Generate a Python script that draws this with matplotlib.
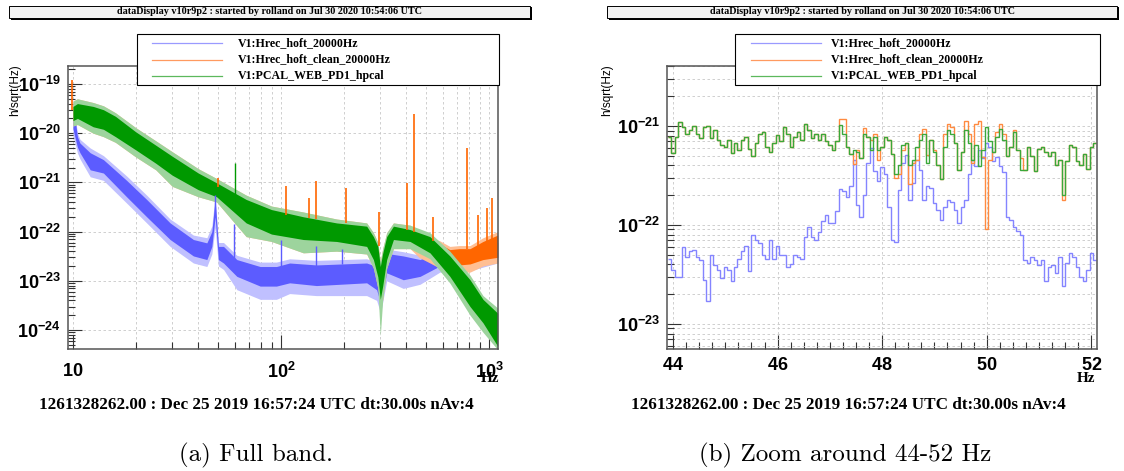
import numpy as np
import matplotlib.pyplot as plt
from matplotlib.ticker import FixedLocator, MultipleLocator, NullFormatter
from matplotlib.patches import Rectangle
from matplotlib.lines import Line2D

plt.rcParams['mathtext.fontset'] = 'custom'
plt.rcParams['mathtext.rm'] = 'Liberation Sans'
plt.rcParams['mathtext.bf'] = 'Liberation Sans:bold'

# ---------------- full band spectra (envelopes of the noisy ASDs) ----------------
pcal_f = [10, 10.5, 12.5, 14, 16, 20, 25, 30, 40, 49, 68, 90, 128, 185, 258, 278,
          292, 300, 308, 322, 347, 417, 520, 648, 810, 935, 1100]
pcal_hi = [3.5e-20, 4.0e-20, 3.5e-20, 3.0e-20, 2.2e-20, 1.07e-20, 5.7e-21, 3.4e-21, 1.55e-21,
           9.8e-22, 4.5e-22, 2.8e-22, 2.0e-22, 1.5e-22, 1.29e-22, 7.9e-23, 5.0e-23, 1.95e-23,
           3.6e-23, 7.9e-23, 1.29e-22, 1.1e-22, 7.9e-23, 3.2e-23, 1.05e-23, 4.2e-24, 2.2e-24]
pcal_lo = [1.8e-20, 2.0e-20, 1.35e-20, 1.2e-20, 8.5e-21, 4.6e-21, 2.45e-21, 1.4e-21, 7.1e-22,
           5.1e-22, 1.5e-22, 8.9e-23, 6.9e-23, 6.3e-23, 5.0e-23, 2.7e-23, 1.2e-23, 4.2e-24,
           7.8e-24, 2.7e-23, 6.9e-23, 6.3e-23, 3.7e-23, 1.23e-23, 3.0e-24, 1.4e-24, 4.7e-25]
pcal_max = [4.5e-20, 5.0e-20, 4.2e-20, 3.6e-20, 2.6e-20, 1.3e-20, 7.0e-21, 4.2e-21, 1.9e-21,
            1.2e-21, 5.5e-22, 3.3e-22, 2.5e-22, 1.8e-22, 1.5e-22, 9.5e-23, 6.0e-23, 2.5e-23,
            4.5e-23, 9.5e-23, 1.5e-22, 1.35e-22, 9.5e-23, 4.0e-23, 1.3e-23, 5.0e-24, 2.8e-24]
pcal_min = [1.4e-20, 1.5e-20, 1.0e-20, 8.5e-21, 6.5e-21, 3.3e-21, 1.8e-21, 8.3e-22, 5.1e-22,
            4.0e-22, 7.9e-23, 6.3e-23, 3.7e-23, 4.0e-23, 3.5e-23, 1.8e-23, 7.0e-24, 7.6e-25,
            4.0e-24, 1.8e-23, 4.5e-23, 4.5e-23, 2.8e-23, 9.0e-24, 2.0e-24, 9.0e-25, 4.0e-25]
pcal_line_f = [60]
pcal_line_top = [2.5e-21]
pcal_line_base = [4.0e-22]

clean_f = [10, 10.5, 12.5, 14, 16, 20, 25, 30, 40, 49, 68, 90, 128, 185, 258, 278,
           292, 300, 308, 322, 347, 417, 460, 520, 580, 648, 720, 810, 935, 1100]
clean_hi = [3.5e-20, 4.0e-20, 3.5e-20, 3.0e-20, 2.2e-20, 1.07e-20, 5.7e-21, 3.4e-21, 1.55e-21,
            9.8e-22, 4.5e-22, 2.8e-22, 2.0e-22, 1.5e-22, 1.29e-22, 7.9e-23, 5.0e-23, 2.2e-23,
            3.6e-23, 7.9e-23, 1.29e-22, 1.1e-22, 9.0e-23, 6.3e-23, 5.6e-23, 4.3e-23, 4.5e-23,
            4.5e-23, 6.3e-23, 8.5e-23]
clean_lo = [1.8e-20, 2.0e-20, 1.35e-20, 1.2e-20, 8.5e-21, 4.6e-21, 2.45e-21, 1.4e-21, 7.1e-22,
            5.1e-22, 1.5e-22, 8.9e-23, 6.9e-23, 6.3e-23, 5.0e-23, 2.7e-23, 1.2e-23, 5.6e-24,
            7.8e-24, 2.7e-23, 6.9e-23, 6.3e-23, 4.5e-23, 3.2e-23, 2.6e-23, 2.0e-23, 2.1e-23,
            2.2e-23, 2.7e-23, 3.0e-23]
clean_max = [4.5e-20, 5.0e-20, 4.2e-20, 3.6e-20, 2.6e-20, 1.3e-20, 7.0e-21, 4.2e-21, 1.9e-21,
             1.2e-21, 5.5e-22, 3.3e-22, 2.5e-22, 1.8e-22, 1.5e-22, 9.5e-23, 6.0e-23, 2.5e-23,
             4.5e-23, 9.5e-23, 1.5e-22, 1.35e-22, 1.05e-22, 7.5e-23, 6.5e-23, 5.0e-23, 5.2e-23,
             5.2e-23, 7.5e-23, 1.0e-22]
clean_min = [1.4e-20, 1.5e-20, 1.0e-20, 8.5e-21, 6.5e-21, 3.3e-21, 1.8e-21, 8.3e-22, 5.1e-22,
             4.0e-22, 7.9e-23, 6.3e-23, 3.7e-23, 4.0e-23, 3.5e-23, 1.8e-23, 7.0e-24, 3.5e-24,
             4.0e-24, 1.8e-23, 4.5e-23, 4.5e-23, 3.0e-23, 2.3e-23, 1.8e-23, 1.4e-23, 1.5e-23,
             1.5e-23, 2.0e-23, 2.3e-23]
clean_line_f = [9.9, 49.5, 106, 137, 148, 205, 295, 402, 436, 537, 782, 880, 975, 1030]
clean_line_top = [1.2e-19, 1.2e-21, 8.3e-22, 4.9e-22, 1.05e-21, 7.8e-22, 2.5e-22, 9.8e-22,
                  2.5e-20, 2.0e-22, 5.0e-21, 2.2e-22, 3.0e-22, 4.9e-22]
clean_line_base = [3.0e-20, 8.0e-22, 2.2e-22, 1.9e-22, 1.8e-22, 1.5e-22, 5.0e-23, 1.1e-22,
                   1.0e-22, 6.5e-23, 4.5e-23, 5.0e-23, 6.0e-23, 7.0e-23]

hrec_f = [10, 10.5, 10.8, 12.1, 14, 18.1, 22.6, 29.3, 37.9, 44, 46.5, 48.2, 50, 52.9, 61.3,
          79.4, 95, 110, 148, 258, 288, 301, 322, 387, 466, 580, 810, 1100]
hrec_hi = [4.1e-20, 8.5e-21, 6.3e-21, 4.0e-21, 2.9e-21, 1.1e-21, 4.5e-22, 1.5e-22, 6.9e-23,
           5.9e-23, 1.0e-22, 4.5e-22, 5.0e-23, 5.0e-23, 2.7e-23, 1.95e-23, 1.95e-23, 2.3e-23,
           2.1e-23, 2.3e-23, 1.95e-23, 1.3e-23, 3.6e-23, 3.2e-23, 2.7e-23, 4.0e-23, 4.0e-23, 6.0e-23]
hrec_lo = [1.2e-20, 5.2e-21, 4.0e-21, 1.8e-21, 1.55e-21, 5.1e-22, 2.0e-22, 6.9e-23, 3.2e-23,
           2.7e-23, 5.0e-23, 2.0e-22, 2.7e-23, 2.3e-23, 1.23e-23, 7.8e-24, 7.8e-24, 9.1e-24,
           8.0e-24, 9.1e-24, 6.6e-24, 3.5e-24, 1.45e-23, 1.05e-23, 1.23e-23, 2.0e-23, 2.2e-23, 3.0e-23]
hrec_max = [5.0e-20, 1.0e-20, 7.5e-21, 5.0e-21, 3.5e-21, 1.35e-21, 5.5e-22, 1.8e-22, 8.5e-23,
            7.5e-23, 1.3e-22, 5.5e-22, 6.0e-23, 6.0e-23, 3.3e-23, 2.4e-23, 2.4e-23, 2.8e-23,
            2.6e-23, 2.8e-23, 2.4e-23, 1.6e-23, 4.4e-23, 3.9e-23, 3.3e-23, 4.6e-23, 4.6e-23, 7.0e-23]
hrec_min = [9.0e-21, 4.0e-21, 3.0e-21, 1.3e-21, 1.1e-21, 3.8e-22, 1.5e-22, 5.0e-23, 2.3e-23,
            1.95e-23, 3.5e-23, 1.2e-22, 2.0e-23, 1.7e-23, 6.6e-24, 4.2e-24, 4.2e-24, 5.5e-24,
            5.0e-24, 5.0e-24, 4.0e-24, 2.2e-24, 1.0e-23, 7.0e-24, 8.5e-24, 1.5e-23, 1.6e-23, 2.3e-23]
hrec_line_f = [48.0, 59.4, 100, 148, 196]
hrec_line_top = [5.5e-22, 1.4e-22, 6.9e-23, 5.0e-23, 4.5e-23]
hrec_line_base = [2.0e-22, 2.5e-23, 1.9e-23, 2.0e-23, 2.2e-23]

# ---------------- 44-52 Hz zoom, bins of 1/15 Hz starting at 43.9 Hz (units of 1e-22) ----------------
zoom_f0 = 43.9
zoom_df = 1 / 15
hrec_zoom = np.array([
    0.45, 0.35, 0.30, 0.30, 0.60, 0.48, 0.54, 0.56, 0.48, 0.44,
    0.28, 0.17, 0.50, 0.39, 0.35, 0.29, 0.38, 0.35, 0.27, 0.38,
    0.45, 0.54, 0.62, 0.34, 0.80, 0.70, 0.65, 0.50, 0.45, 0.70,
    0.45, 0.62, 0.50, 0.50, 0.38, 0.40, 0.50, 0.48, 0.45, 0.75,
    0.95, 0.75, 0.70, 0.85, 1.10, 1.25, 1.05, 1.05, 1.40, 2.30,
    2.20, 1.90, 2.50, 4.50, 1.60, 1.20, 2.00, 4.20, 6.00, 3.50,
    2.80, 3.88, 3.30, 1.53, 0.70, 0.68, 2.26, 4.20, 5.10, 1.79,
    2.63, 4.50, 3.60, 1.79, 2.50, 2.35, 1.65, 1.42, 1.12, 1.53,
    1.79, 1.70, 1.42, 1.04, 1.53, 1.79, 3.30, 4.50, 3.90, 5.70,
    4.70, 6.70, 6.20, 4.40, 4.90, 3.90, 3.45, 1.20, 1.12, 0.96,
    0.86, 0.79, 0.44, 0.41, 0.48, 0.44, 0.39, 0.44, 0.27, 0.38,
    0.39, 0.33, 0.48, 0.24, 0.41, 0.52, 0.48, 0.38, 0.30, 0.27,
    0.35, 0.52, 0.44]) * 1e-22
clean_zoom = np.array([
    7.8, 5.3, 7.8, 10.9, 9.7, 8.4, 9.2, 10.0, 8.4, 7.6,
    9.7, 10.0, 7.6, 9.1, 7.2, 6.4, 6.2, 7.2, 5.3, 6.7,
    5.7, 7.2, 7.8, 5.9, 5.0, 6.7, 8.4, 8.8, 6.2, 5.5,
    6.7, 8.1, 7.0, 9.7, 8.4, 6.2, 7.8, 8.8, 7.2, 10.6,
    9.1, 7.6, 8.4, 7.2, 8.4, 7.0, 6.4, 5.7, 7.0, 11.7,
    11.9, 6.2, 5.2, 4.1, 5.7, 4.8, 9.5, 7.8, 7.2, 8.4,
    4.5, 6.2, 7.8, 7.2, 5.2, 3.0, 3.3, 5.7, 6.7, 2.6,
    4.2, 4.5, 8.4, 9.4, 5.1, 7.2, 5.7, 4.0, 2.9, 8.4,
    10.6, 9.8, 6.7, 3.6, 5.5, 11.2, 8.4, 4.2, 10.6, 11.2,
    4.9, 0.9, 4.5, 5.5, 8.8, 10.6, 8.4, 5.0, 6.2, 9.1,
    5.7, 4.7, 3.6, 6.2, 5.0, 3.5, 5.8, 6.2, 5.5, 5.0,
    5.5, 4.0, 4.5, 1.8, 4.4, 6.4, 6.2, 4.4, 4.0, 5.2,
    3.7, 6.1, 6.7]) * 1e-22
pcal_zoom = np.array([
    7.8, 5.3, 7.8, 10.9, 9.7, 8.4, 9.2, 10.0, 8.4, 7.6,
    9.7, 10.0, 7.6, 9.1, 7.2, 6.4, 6.2, 7.2, 5.3, 6.7,
    5.7, 7.2, 7.8, 5.9, 5.0, 6.7, 8.4, 8.8, 6.2, 5.5,
    6.7, 8.1, 7.0, 9.7, 8.4, 6.2, 7.8, 8.8, 7.2, 10.6,
    9.1, 7.6, 8.4, 7.2, 8.4, 7.0, 6.4, 5.7, 7.0, 10.2,
    8.4, 6.2, 5.2, 5.7, 5.5, 4.8, 8.4, 7.8, 5.7, 7.8,
    5.7, 6.2, 7.8, 7.2, 5.2, 3.3, 4.0, 6.4, 6.7, 4.0,
    4.5, 6.2, 7.2, 8.4, 4.2, 7.2, 5.5, 4.0, 2.9, 6.2,
    9.1, 8.4, 6.7, 3.6, 5.5, 9.1, 6.7, 4.5, 6.4, 3.9,
    5.7, 9.7, 7.0, 5.5, 7.8, 9.4, 7.2, 5.0, 6.2, 8.8,
    5.7, 3.6, 3.6, 6.2, 5.0, 3.5, 5.8, 6.2, 5.5, 5.0,
    5.5, 4.0, 4.5, 2.0, 4.4, 6.4, 6.2, 4.4, 4.0, 5.2,
    3.7, 6.1, 6.7]) * 1e-22

labels = ['V1:Hrec_hoft_20000Hz', 'V1:Hrec_hoft_clean_20000Hz', 'V1:PCAL_WEB_PD1_hpcal']
header = 'dataDisplay v10r9p2 : started by rolland on Jul 30 2020 10:54:06 UTC'
footer = '1261328262.00 : Dec 25 2019 16:57:24 UTC dt:30.00s nAv:4'
captions = ['(a) Full band.', '(b) Zoom around 44-52 Hz']

# colours: (dense core, light fringe)
c_hrec = ('#5c5cff', '#c0c0ff')
c_clean = ('#ff6600', '#ffbf94')
c_pcal = ('#009900', '#9dd49d')
zoom_cols = ['#8484ff', '#ff8a40', '#3aa83a']
legend_cols = ['#9a9aff', '#ff9a60', '#5cb85c']

W, H = 1124, 471


def fx(x):
    return x / W


def fy(y):
    return 1 - y / H


fig = plt.figure(figsize=(W / 100, H / 100), dpi=100)

ax1 = fig.add_axes([fx(68), fy(349), (498 - 68) / W, (349 - 66) / H])
ax2 = fig.add_axes([fx(667), fy(349), (1097 - 667) / W, (349 - 66) / H])


def band(ax, f, lo, hi, vmin, vmax, cols):
    ax.fill_between(f, vmin, vmax, color=cols[1], lw=0)
    ax.fill_between(f, lo, hi, color=cols[0], lw=0)


band(ax1, hrec_f, hrec_lo, hrec_hi, hrec_min, hrec_max, c_hrec)
ax1.vlines(hrec_line_f, hrec_line_base, hrec_line_top, color=c_hrec[0], lw=1.0)
band(ax1, clean_f, clean_lo, clean_hi, clean_min, clean_max, c_clean)
ax1.vlines(clean_line_f, clean_line_base, clean_line_top, color=c_clean[0], lw=1.2)
band(ax1, pcal_f, pcal_lo, pcal_hi, pcal_min, pcal_max, c_pcal)
ax1.vlines(pcal_line_f, pcal_line_base, pcal_line_top, color=c_pcal[0], lw=1.0)

ax1.set_xscale('log')
ax1.set_yscale('log')
ax1.set_xlim(9.46, 1104)
ax1.set_ylim(4.11e-25, 2.32e-19)

# zoomed step spectra
edges = zoom_f0 + np.arange(len(hrec_zoom) + 1) * zoom_df
ax2.stairs(hrec_zoom, edges, baseline=None, color=zoom_cols[0], lw=1.0)
ax2.stairs(clean_zoom, edges, baseline=None, color=zoom_cols[1], lw=1.0)
ax2.stairs(pcal_zoom, edges, baseline=None, color=zoom_cols[2], lw=1.0)
ax2.set_yscale('log')
ax2.set_xlim(43.885, 52.11)
ax2.set_ylim(5.58e-24, 4.04e-21)

grid_kw = dict(color='#c8c8c8', lw=0.6, ls=(0, (3, 3)))

# axis styling, left panel
ax1.set_xticks([10, 100, 1000])
ax1.set_xticklabels([r'$\mathbf{10}$', r'$\mathbf{10^{2}}$', r'$\mathbf{10^{3}}$'])
ax1.xaxis.set_minor_locator(FixedLocator([d * m for d in (10, 100) for m in range(2, 10)]))
ax1.xaxis.set_minor_formatter(NullFormatter())
ydec = [1e-19, 1e-20, 1e-21, 1e-22, 1e-23, 1e-24]
ax1.set_yticks(ydec)
ax1.set_yticklabels([r'$\mathbf{10^{-%d}}$' % d for d in range(19, 25)])
ax1.yaxis.set_minor_locator(FixedLocator([d * m for d in [1e-25] + ydec for m in range(2, 10)]))
ax1.yaxis.set_minor_formatter(NullFormatter())
ax1.grid(True, which='both', axis='x', **grid_kw)
ax1.grid(True, which='major', axis='y', **grid_kw)
ax1.tick_params(axis='x', which='major', pad=9)

# axis styling, right panel
ax2.set_xticks([44, 46, 48, 50, 52])
ax2.set_xticklabels([r'$\mathbf{%d}$' % v for v in (44, 46, 48, 50, 52)])
ax2.xaxis.set_minor_locator(MultipleLocator(0.25))
ax2.set_xlim(43.885, 52.11)
zdec = [1e-21, 1e-22, 1e-23]
ax2.set_yticks(zdec)
ax2.set_yticklabels([r'$\mathbf{10^{-%d}}$' % d for d in (21, 22, 23)])
ax2.yaxis.set_minor_locator(FixedLocator([d * m for d in [1e-24] + zdec for m in range(2, 10)]))
ax2.yaxis.set_minor_formatter(NullFormatter())
ax2.grid(True, which='major', axis='x', **grid_kw)
ax2.grid(True, which='both', axis='y', **grid_kw)
ax2.tick_params(axis='x', which='major', pad=5)

for ax in (ax1, ax2):
    ax.set_axisbelow(True)
    for s in ax.spines.values():
        s.set_color('#555555')
        s.set_linewidth(1.1)
    ax.tick_params(which='both', direction='in', color='#333333', width=0.8,
                   labelsize=13, top=False, right=False)
    ax.tick_params(which='major', length=10)
    ax.tick_params(which='minor', length=5)
    ax.tick_params(axis='y', which='major', pad=5)

# header boxes, legends and texts
serif_b = dict(fontfamily='Liberation Serif', fontweight='bold')


def header_box(x0, x1):
    fig.add_artist(Rectangle((fx(x0 + 2), fy(20)), (x1 - x0) / W, 13 / H,
                             transform=fig.transFigure, facecolor='black', edgecolor='none'))
    fig.add_artist(Rectangle((fx(x0), fy(18)), (x1 - x0) / W, 12 / H,
                             transform=fig.transFigure, facecolor='#f2f2f2',
                             edgecolor='black', lw=0.7))
    fig.text(fx((x0 + x1) / 2), fy(12), header, ha='center', va='center', fontsize=7.3, **serif_b)


def legend_box(x0, x1, line_x0, text_x):
    fig.add_artist(Rectangle((fx(x0), fy(85)), (x1 - x0) / W, 51 / H,
                             transform=fig.transFigure, facecolor='white',
                             edgecolor='black', lw=0.8, zorder=5))
    for i, (lab, col) in enumerate(zip(labels, legend_cols)):
        y = 43 + i * 16.5
        fig.add_artist(Line2D([fx(line_x0), fx(line_x0 + 70)], [fy(y), fy(y)],
                              transform=fig.transFigure, color=col, lw=0.9, zorder=6))
        fig.text(fx(text_x), fy(y), lab, ha='left', va='center', fontsize=8.6, zorder=6, **serif_b)


header_box(9, 530)
header_box(607, 1117)
legend_box(137, 499, 152, 238)
legend_box(735, 1100, 751, 831)

for xc in (15, 607):
    fig.text(fx(xc), fy(90), 'h/sqrt(Hz)', rotation=90, ha='center', va='center',
             fontfamily='Liberation Sans', fontsize=8.5)
fig.text(fx(490), fy(378), 'Hz', ha='center', va='center', fontsize=11, **serif_b)
fig.text(fx(1086), fy(379), 'Hz', ha='center', va='center', fontsize=11, **serif_b)
fig.text(fx(256), fy(405), footer, ha='center', va='center', fontsize=12.3, **serif_b)
fig.text(fx(848), fy(405), footer, ha='center', va='center', fontsize=12.3, **serif_b)
fig.text(fx(256), fy(455), captions[0], ha='center', va='center', fontsize=18, fontfamily='cmr10')
fig.text(fx(845), fy(455), captions[1], ha='center', va='center', fontsize=18, fontfamily='cmr10')

fig.savefig('out.png', dpi=100)
